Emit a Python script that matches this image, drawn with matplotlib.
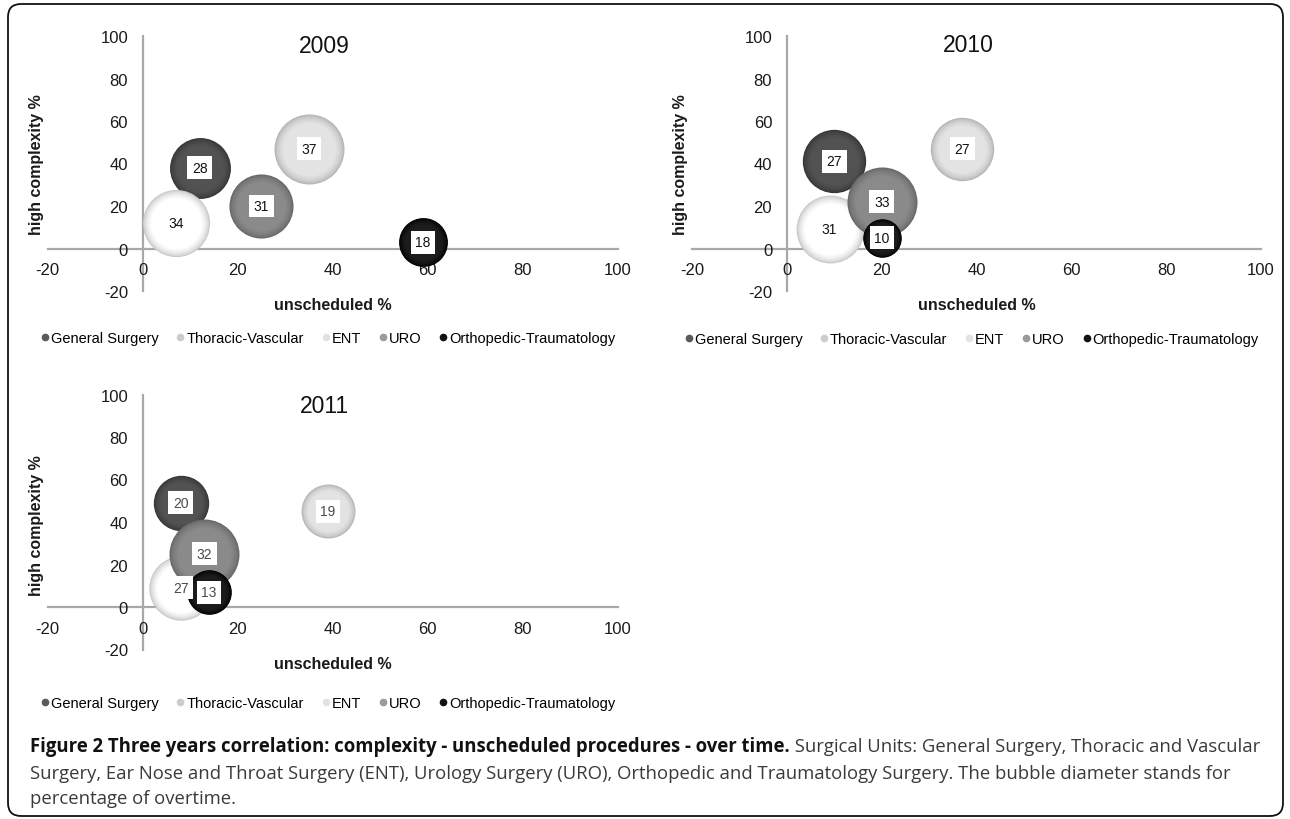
import matplotlib
matplotlib.use('Agg')
import matplotlib.pyplot as plt
from matplotlib.patches import FancyBboxPatch
from matplotlib.lines import Line2D
from matplotlib.colors import to_rgb

# ---------------- data ----------------
units = ['General Surgery', 'Thoracic-Vascular', 'ENT', 'URO', 'Orthopedic-Traumatology']
years = ['2009', '2010', '2011']

unscheduled_2009 = [12, 35, 7, 25, 59]
complexity_2009 = [38, 47, 12, 20, 3]
overtime_2009 = [28, 37, 34, 31, 18]

unscheduled_2010 = [10, 37, 9, 20, 20]
complexity_2010 = [41, 47, 9, 22, 5]
overtime_2010 = [27, 27, 31, 33, 10]

unscheduled_2011 = [8, 39, 8, 13, 14]
complexity_2011 = [49, 45, 9, 25, 7]
overtime_2011 = [20, 19, 27, 32, 13]

axis_ticks = [-20, 0, 20, 40, 60, 80, 100]

# ---------------- style ----------------
base_colors = ['#525252', '#e3e3e3', '#ffffff', '#8a8a8a', '#1c1c1c']
rim_colors = ['#353535', '#b3b3b3', '#c6c6c6', '#666666', '#000000']
legend_colors = ['#5a5a5a', '#cccccc', '#e2e2e2', '#9a9a9a', '#111111']

plt.rcParams['font.family'] = ['Liberation Sans', 'DejaVu Sans']

W, H = 1290, 820
fig = plt.figure(figsize=(W / 100, H / 100), dpi=100)


def mix(c1, c2, t):
    a, b = to_rgb(c1), to_rgb(c2)
    return tuple(a[i] * (1 - t) + b[i] * t for i in range(3))


def add_panel(left_px, right_px, top_px, bottom_px):
    return fig.add_axes([left_px / W, 1 - bottom_px / H,
                         (right_px - left_px) / W, (bottom_px - top_px) / H])


def draw_panel(ax, title, xs, ys, vs, label_color, title_y, ylab_y, leg_y):
    ax.set_xlim(-20, 100)
    ax.set_ylim(-20, 100)
    ax.patch.set_alpha(0)
    for side in ['top', 'right']:
        ax.spines[side].set_visible(False)
    for side in ['left', 'bottom']:
        ax.spines[side].set_position(('data', 0))
        ax.spines[side].set_color('#a8a8a8')
        ax.spines[side].set_linewidth(1.6)
        ax.spines[side].set_zorder(1)
    ax.set_xticks(axis_ticks)
    ax.set_yticks(axis_ticks)
    ax.set_xticklabels([str(t) for t in axis_ticks])
    ax.set_yticklabels([str(t) for t in axis_ticks])
    ax.tick_params(axis='x', length=0, pad=10, labelsize=12, labelcolor='#1a1a1a')
    ax.tick_params(axis='y', length=0, pad=10.5, labelsize=12, labelcolor='#1a1a1a')

    ax.set_xlabel('unscheduled %', fontsize=11.5, fontweight='bold', va='center', color='#1a1a1a')
    ax.xaxis.set_label_coords(0.5, -0.053)
    ax.set_ylabel('high complexity %', fontsize=11.5, fontweight='bold', va='center', color='#1a1a1a')
    ax.yaxis.set_label_coords(-0.02, ylab_y)

    ax.text(0.486, title_y, title, transform=ax.transAxes, ha='center', va='center',
            fontsize=16.5, color='#111111')

    vmax = max(vs)
    dmax_pt = 70 * 72 / 100.0
    n = 10
    for i in range(len(vs)):
        s_full = dmax_pt ** 2 * vs[i] / vmax
        z0 = 3 + i * 20
        for k in range(n):
            f = 1 - 0.24 * k / (n - 1)
            t = (k / (n - 1)) ** 0.6
            c = mix(rim_colors[i], base_colors[i], t)
            ax.scatter([xs[i]], [ys[i]], s=s_full * f * f, color=c, lw=0, zorder=z0 + k)
    for i in range(len(vs)):
        ax.text(xs[i], ys[i], str(vs[i]), ha='center', va='center', fontsize=10,
                color=label_color, zorder=200 + i,
                bbox=dict(boxstyle='square,pad=0.32', fc='white', ec='none'))

    handles = [Line2D([], [], marker='o', ls='', markersize=4.5,
                      markerfacecolor=c, markeredgecolor=c) for c in legend_colors]
    ax.legend(handles, units, loc='center', bbox_to_anchor=(0.492, leg_y), ncol=5,
              frameon=False, handlelength=0.5, handletextpad=0.15, columnspacing=1.25,
              fontsize=10.5, borderaxespad=0, borderpad=0)


ax1 = add_panel(47.5, 618, 37, 292)
draw_panel(ax1, years[0], unscheduled_2009, complexity_2009, overtime_2009,
           '#111111', 0.962, 0.5, -0.185)

ax2 = add_panel(692, 1261, 37, 292)
draw_panel(ax2, years[1], unscheduled_2010, complexity_2010, overtime_2010,
           '#111111', 0.966, 0.5, -0.19)

ax3 = add_panel(47.5, 618, 395.5, 650.5)
draw_panel(ax3, years[2], unscheduled_2011, complexity_2011, overtime_2011,
           '#4a4a4a', 0.958, 0.49, -0.21)

# ---------------- frame ----------------
frame = FancyBboxPatch((0.08, 0.03), 12.75, 8.12,
                       boxstyle='round,pad=0,rounding_size=0.13',
                       transform=fig.dpi_scale_trans, fill=False,
                       ec='#111111', lw=1.3, zorder=0)
fig.patches.append(frame)

# ---------------- caption ----------------
cap_bold = 'Figure 2 Three years correlation: complexity - unscheduled procedures - over time.'
cap_rest1 = ' Surgical Units: General Surgery, Thoracic and Vascular'
cap_line2 = ('Surgery, Ear Nose and Throat Surgery (ENT), Urology Surgery (URO), '
             'Orthopedic and Traumatology Surgery. The bubble diameter stands for')
cap_line3 = 'percentage of overtime.'

cap_font = ['Open Sans', 'DejaVu Sans']
x0_px, x1_px = 30, 1258
fig.canvas.draw()
renderer = fig.canvas.get_renderer()

fs = 12.0
for _ in range(3):
    tb = fig.text(0, 0, cap_bold, fontsize=fs, fontweight='bold', family=cap_font)
    tr = fig.text(0, 0, cap_rest1, fontsize=fs, family=cap_font)
    wsum = tb.get_window_extent(renderer).width + tr.get_window_extent(renderer).width
    tb.remove()
    tr.remove()
    fs = fs * (x1_px - x0_px) / wsum

y1, y2, y3 = 1 - 747 / H, 1 - 774 / H, 1 - 799 / H
tb = fig.text(x0_px / W, y1, cap_bold, fontsize=fs, fontweight='bold', family=cap_font,
              va='center', color='#111111')
bw = tb.get_window_extent(renderer).width
fig.text((x0_px + bw) / W, y1, cap_rest1, fontsize=fs, family=cap_font, va='center',
         color='#3a3a3a')
fig.text(x0_px / W, y2, cap_line2, fontsize=fs, family=cap_font, va='center', color='#3a3a3a')
fig.text(x0_px / W, y3, cap_line3, fontsize=fs, family=cap_font, va='center', color='#3a3a3a')

fig.savefig('out.png', dpi=100)
